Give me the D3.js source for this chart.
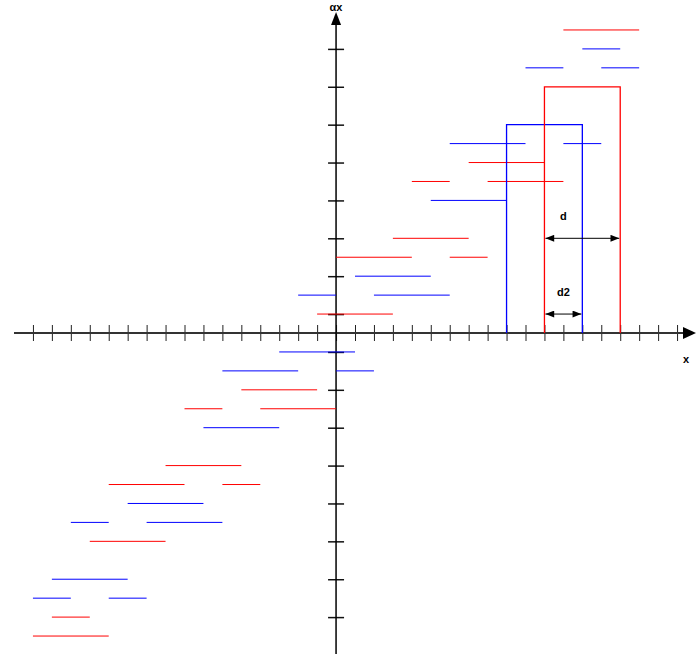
<!DOCTYPE html>
<html>
<head>
<meta charset="utf-8">
<title>segments</title>
<script src="https://cdn.jsdelivr.net/npm/d3@7"></script>
<style>
  body { margin: 0; background: #fff; }
  text { font-family: "Liberation Sans", Arial, sans-serif; font-weight: bold; }
</style>
</head>
<body>
<script>
// horizontal segments: [level, from, to]
var redSegs = [
  [16, 12, 16], [9, 7, 11], [8, 4, 6], [8, 8, 12], [5, 3, 7], [4, 0, 4], [4, 6, 8], [1, -1, 3],
  [-3, -5, -1], [-4, -8, -6], [-4, -4, 0], [-7, -9, -5], [-8, -12, -8], [-8, -6, -4],
  [-11, -13, -9], [-15, -15, -13], [-16, -16, -12]
];
var blueSegs = [
  [15, 13, 15], [14, 10, 12], [14, 14, 16], [10, 6, 10], [10, 12, 14], [7, 5, 9], [3, 1, 5],
  [2, -2, 0], [2, 2, 6],
  [-1, -3, 1], [-2, -6, -2], [-2, 0, 2], [-5, -7, -3], [-9, -11, -7], [-10, -14, -12],
  [-10, -10, -6], [-13, -15, -11], [-14, -16, -14], [-14, -12, -10]
];
// the two open boxes: [left, right, height]
var boxes = [
  { x0: 9, x1: 13, h: 11, color: "blue" },
  { x0: 11, x1: 15, h: 13, color: "red" }
];
// dimension arrows
var dims = [
  { label: "d", level: 5, from: 11, to: 15 },
  { label: "d2", level: 1, from: 11, to: 13 }
];
var xTicks = d3.range(-16, 19);
var yTicks = [-15, -13, -11, -9, -7, -5, -3, -1, 1, 3, 5, 7, 9, 11, 13, 15];

var W = 696, H = 654;
var svg = d3.select("body").append("svg").attr("width", W).attr("height", H);

var x = d3.scaleLinear().domain([-17, 19]).range([14, 696]);
var y = d3.scaleLinear().domain([-17, 0]).range([333 + 17 * 18.94, 333]);

var defs = svg.append("defs");
defs.append("marker").attr("id", "ah").attr("viewBox", "0 0 10 8")
    .attr("refX", 10).attr("refY", 4).attr("markerWidth", 10).attr("markerHeight", 7)
    .attr("markerUnits", "userSpaceOnUse").attr("orient", "auto-start-reverse")
  .append("path").attr("d", "M0,0 L10,4 L0,8 Z").attr("fill", "#000");

// x axis
var gx = svg.append("g").attr("transform", "translate(0," + y(0) + ")")
    .call(d3.axisBottom(x).tickValues(xTicks).tickSize(8).tickFormat(""));
gx.select(".domain").remove();
gx.selectAll(".tick line").attr("y1", -8).attr("y2", 8).attr("stroke", "#222");
svg.append("line").attr("x1", 14).attr("x2", 686).attr("y1", y(0)).attr("y2", y(0))
    .attr("stroke", "#333").attr("stroke-width", 2);
svg.append("path").attr("d", "M683," + (y(0) - 6) + " L696," + y(0) + " L683," + (y(0) + 6) + " Z");
svg.append("text").attr("x", 686).attr("y", 363).attr("text-anchor", "middle")
    .attr("font-size", 11).text("x");

// y axis
var gy = svg.append("g").attr("transform", "translate(" + x(0) + ",0)")
    .call(d3.axisLeft(y).tickValues(yTicks).tickSize(8).tickFormat(""));
gy.select(".domain").remove();
gy.selectAll(".tick line").attr("x1", -8).attr("x2", 8).attr("stroke", "#111").attr("stroke-width", 1.5);
svg.append("line").attr("x1", x(0)).attr("x2", x(0)).attr("y1", 20).attr("y2", H)
    .attr("stroke", "#000").attr("stroke-width", 1.5);
svg.append("path").attr("d", "M" + (x(0) - 5) + ",25 L" + x(0) + ",12 L" + (x(0) + 5) + ",25 Z");
svg.append("text").attr("x", x(0)).attr("y", 11).attr("text-anchor", "middle")
    .attr("font-size", 11).text("αx");

// segments
function drawSegs(data, col) {
  svg.append("g").selectAll("line").data(data).enter().append("line")
    .attr("x1", function(d) { return x(d[1]); })
    .attr("x2", function(d) { return x(d[2]); })
    .attr("y1", function(d) { return y(d[0]); })
    .attr("y2", function(d) { return y(d[0]); })
    .attr("stroke", col).attr("stroke-width", 1);
}
drawSegs(redSegs, "red");
drawSegs(blueSegs, "blue");

// boxes
svg.append("g").selectAll("path").data(boxes).enter().append("path")
  .attr("d", function(b) {
    return d3.line()([[x(b.x0), y(0)], [x(b.x0), y(b.h)], [x(b.x1), y(b.h)], [x(b.x1), y(0)]]);
  })
  .attr("fill", "none").attr("stroke", function(b) { return b.color; }).attr("stroke-width", 1.3);

// dimension arrows + labels
var gd = svg.append("g");
gd.selectAll("line").data(dims).enter().append("line")
  .attr("x1", function(d) { return x(d.from) + 1; })
  .attr("x2", function(d) { return x(d.to) - 1; })
  .attr("y1", function(d) { return y(d.level); })
  .attr("y2", function(d) { return y(d.level); })
  .attr("stroke", "#000").attr("stroke-width", 1)
  .attr("marker-start", "url(#ah)").attr("marker-end", "url(#ah)");
gd.selectAll("text").data(dims).enter().append("text")
  .attr("x", x(12)).attr("y", function(d) { return y(d.level) - 18; })
  .attr("text-anchor", "middle").attr("font-size", 11)
  .text(function(d) { return d.label; });
</script>
</body>
</html>
